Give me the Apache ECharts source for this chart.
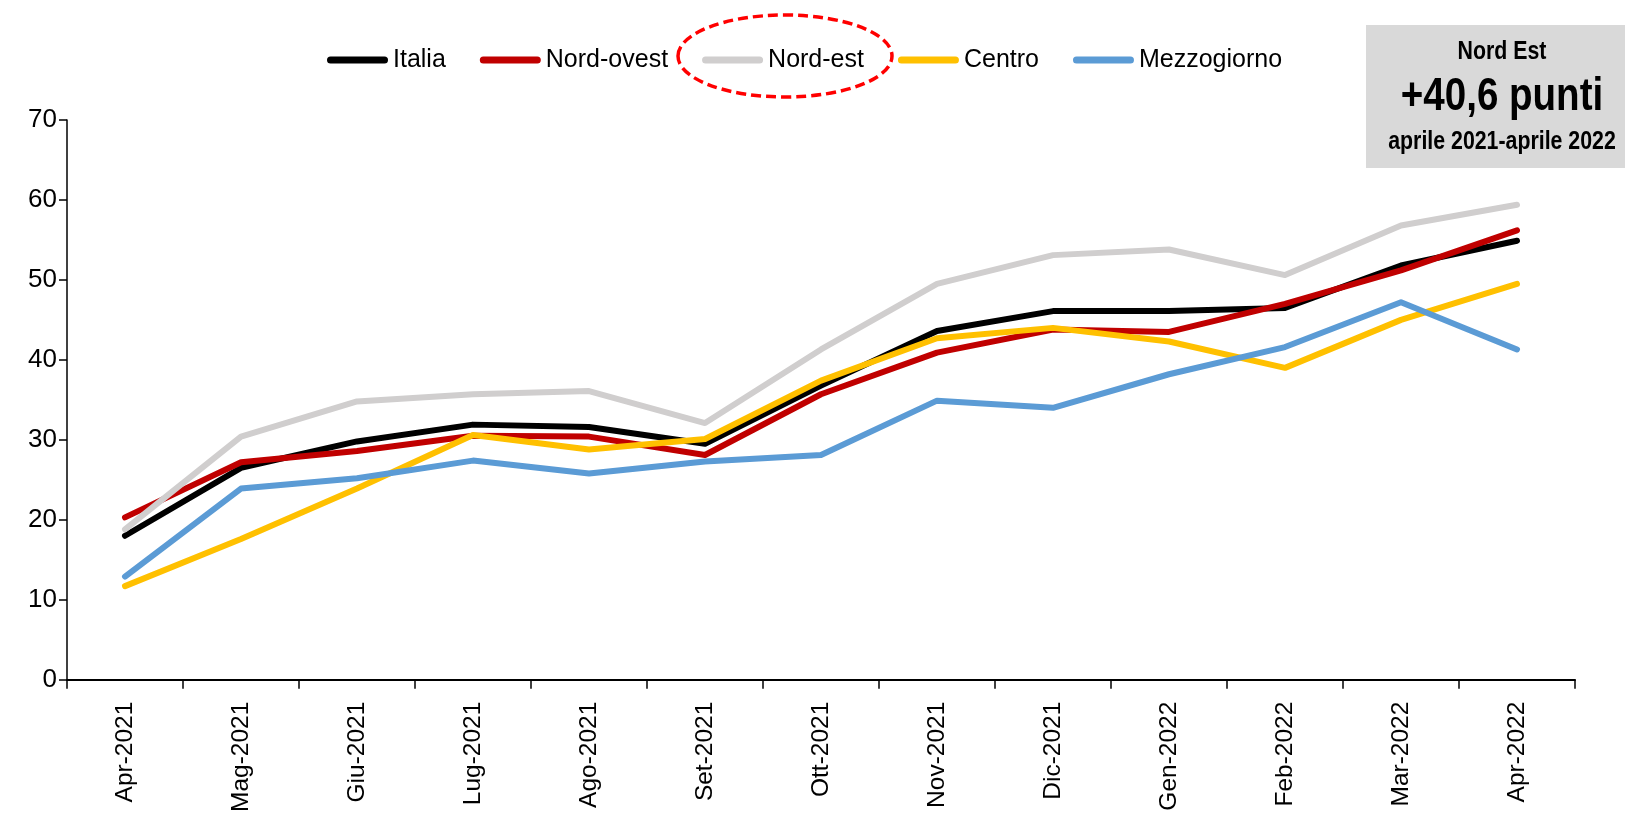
<!DOCTYPE html>
<html>
<head>
<meta charset="UTF-8">
<title>Indice per ripartizione</title>
<script src="https://cdn.jsdelivr.net/npm/echarts@6/dist/echarts.min.js"></script>
<style>
  html, body { margin: 0; padding: 0; background: #fff; }
  #chart { width: 1625px; height: 815px; }
</style>
</head>
<body>
<div id="chart"></div>
<script>
// dati
var categories = ['Apr-2021', 'Mag-2021', 'Giu-2021', 'Lug-2021', 'Ago-2021', 'Set-2021', 'Ott-2021',
  'Nov-2021', 'Dic-2021', 'Gen-2022', 'Feb-2022', 'Mar-2022', 'Apr-2022'];
var italia = [18.0, 26.5, 29.8, 31.9, 31.6, 29.5, 36.8, 43.6, 46.1, 46.1, 46.5, 51.8, 54.9];
var nordOvest = [20.3, 27.2, 28.6, 30.5, 30.4, 28.1, 35.7, 40.9, 43.8, 43.5, 47.0, 51.2, 56.2];
var nordEst = [18.8, 30.4, 34.8, 35.7, 36.1, 32.1, 41.3, 49.5, 53.1, 53.8, 50.6, 56.8, 59.4];
var centro = [11.7, 17.6, 23.9, 30.6, 28.8, 30.1, 37.4, 42.7, 44.0, 42.3, 39.0, 45.0, 49.5];
var mezzogiorno = [12.9, 23.9, 25.2, 27.4, 25.8, 27.3, 28.1, 34.9, 34.0, 38.2, 41.6, 47.2, 41.3];
var yTicks = [0, 10, 20, 30, 40, 50, 60, 70];

var sans = "'Liberation Sans', Arial, sans-serif";

var chart = echarts.init(document.getElementById('chart'));

function serie(name, data, color) {
  return {
    name: name,
    type: 'line',
    data: data,
    symbol: 'none',
    itemStyle: { color: color },
    lineStyle: { color: color, width: 6, cap: 'round', join: 'round' }
  };
}

// icona legenda: barra con estremi arrotondati
var pill = 'path://M3.5,0 H57.5 A3.5,3.5 0 0 1 57.5,7 H3.5 A3.5,3.5 0 0 1 3.5,0 Z';

// testo "stretto" (tipo Arial Narrow) per il riquadro
function narrowText(y, text, size) {
  return {
    type: 'text',
    x: 1502, y: y,
    scaleX: 0.82,
    style: { text: text, fill: '#000', font: 'bold ' + size + 'px ' + sans, align: 'center', verticalAlign: 'middle' },
    z: 101
  };
}

var option = {
  animation: false,
  backgroundColor: '#ffffff',
  grid: { left: 67, right: 50, top: 120, bottom: 130 },
  legend: {
    left: 327,
    top: 45,
    padding: 0,
    itemGap: 34,
    itemWidth: 61,
    itemHeight: 7,
    icon: pill,
    textStyle: { fontFamily: sans, fontSize: 25, color: '#000', lineHeight: 30 },
    data: ['Italia', 'Nord-ovest', 'Nord-est', 'Centro', 'Mezzogiorno']
  },
  xAxis: {
    type: 'category',
    data: categories,
    boundaryGap: true,
    axisLine: { lineStyle: { color: '#000', width: 2 } },
    axisTick: { show: true, interval: 0, length: 9, lineStyle: { color: '#000', width: 1.5 } },
    axisLabel: { interval: 0, rotate: 90, margin: 22, color: '#000', fontFamily: sans, fontSize: 24.5 }
  },
  yAxis: {
    type: 'value',
    min: yTicks[0],
    max: yTicks[yTicks.length - 1],
    interval: 10,
    splitLine: { show: false },
    axisLine: { show: true, lineStyle: { color: '#000', width: 1.5 } },
    axisTick: { show: true, length: 8, lineStyle: { color: '#000', width: 1.5 } },
    axisLabel: { margin: 10, color: '#000', fontFamily: sans, fontSize: 26 }
  },
  series: [
    serie('Italia', italia, '#000000'),
    serie('Nord-ovest', nordOvest, '#c00000'),
    serie('Nord-est', nordEst, '#d0cece'),
    serie('Centro', centro, '#ffc000'),
    serie('Mezzogiorno', mezzogiorno, '#5b9bd5')
  ],
  graphic: [
    {
      type: 'ellipse',
      shape: { cx: 785, cy: 56, rx: 107, ry: 41 },
      style: { fill: null, stroke: '#ff0000', lineWidth: 3.5, lineDash: [10, 5] },
      z: 100
    },
    {
      type: 'rect',
      shape: { x: 1366, y: 25, width: 270, height: 143 },
      style: { fill: '#d9d9d9' },
      z: 90
    },
    narrowText(52, 'Nord Est', 26),
    narrowText(97, '+40,6 punti', 47),
    narrowText(142, 'aprile 2021-aprile 2022', 26)
  ]
};

chart.setOption(option);
</script>
</body>
</html>
